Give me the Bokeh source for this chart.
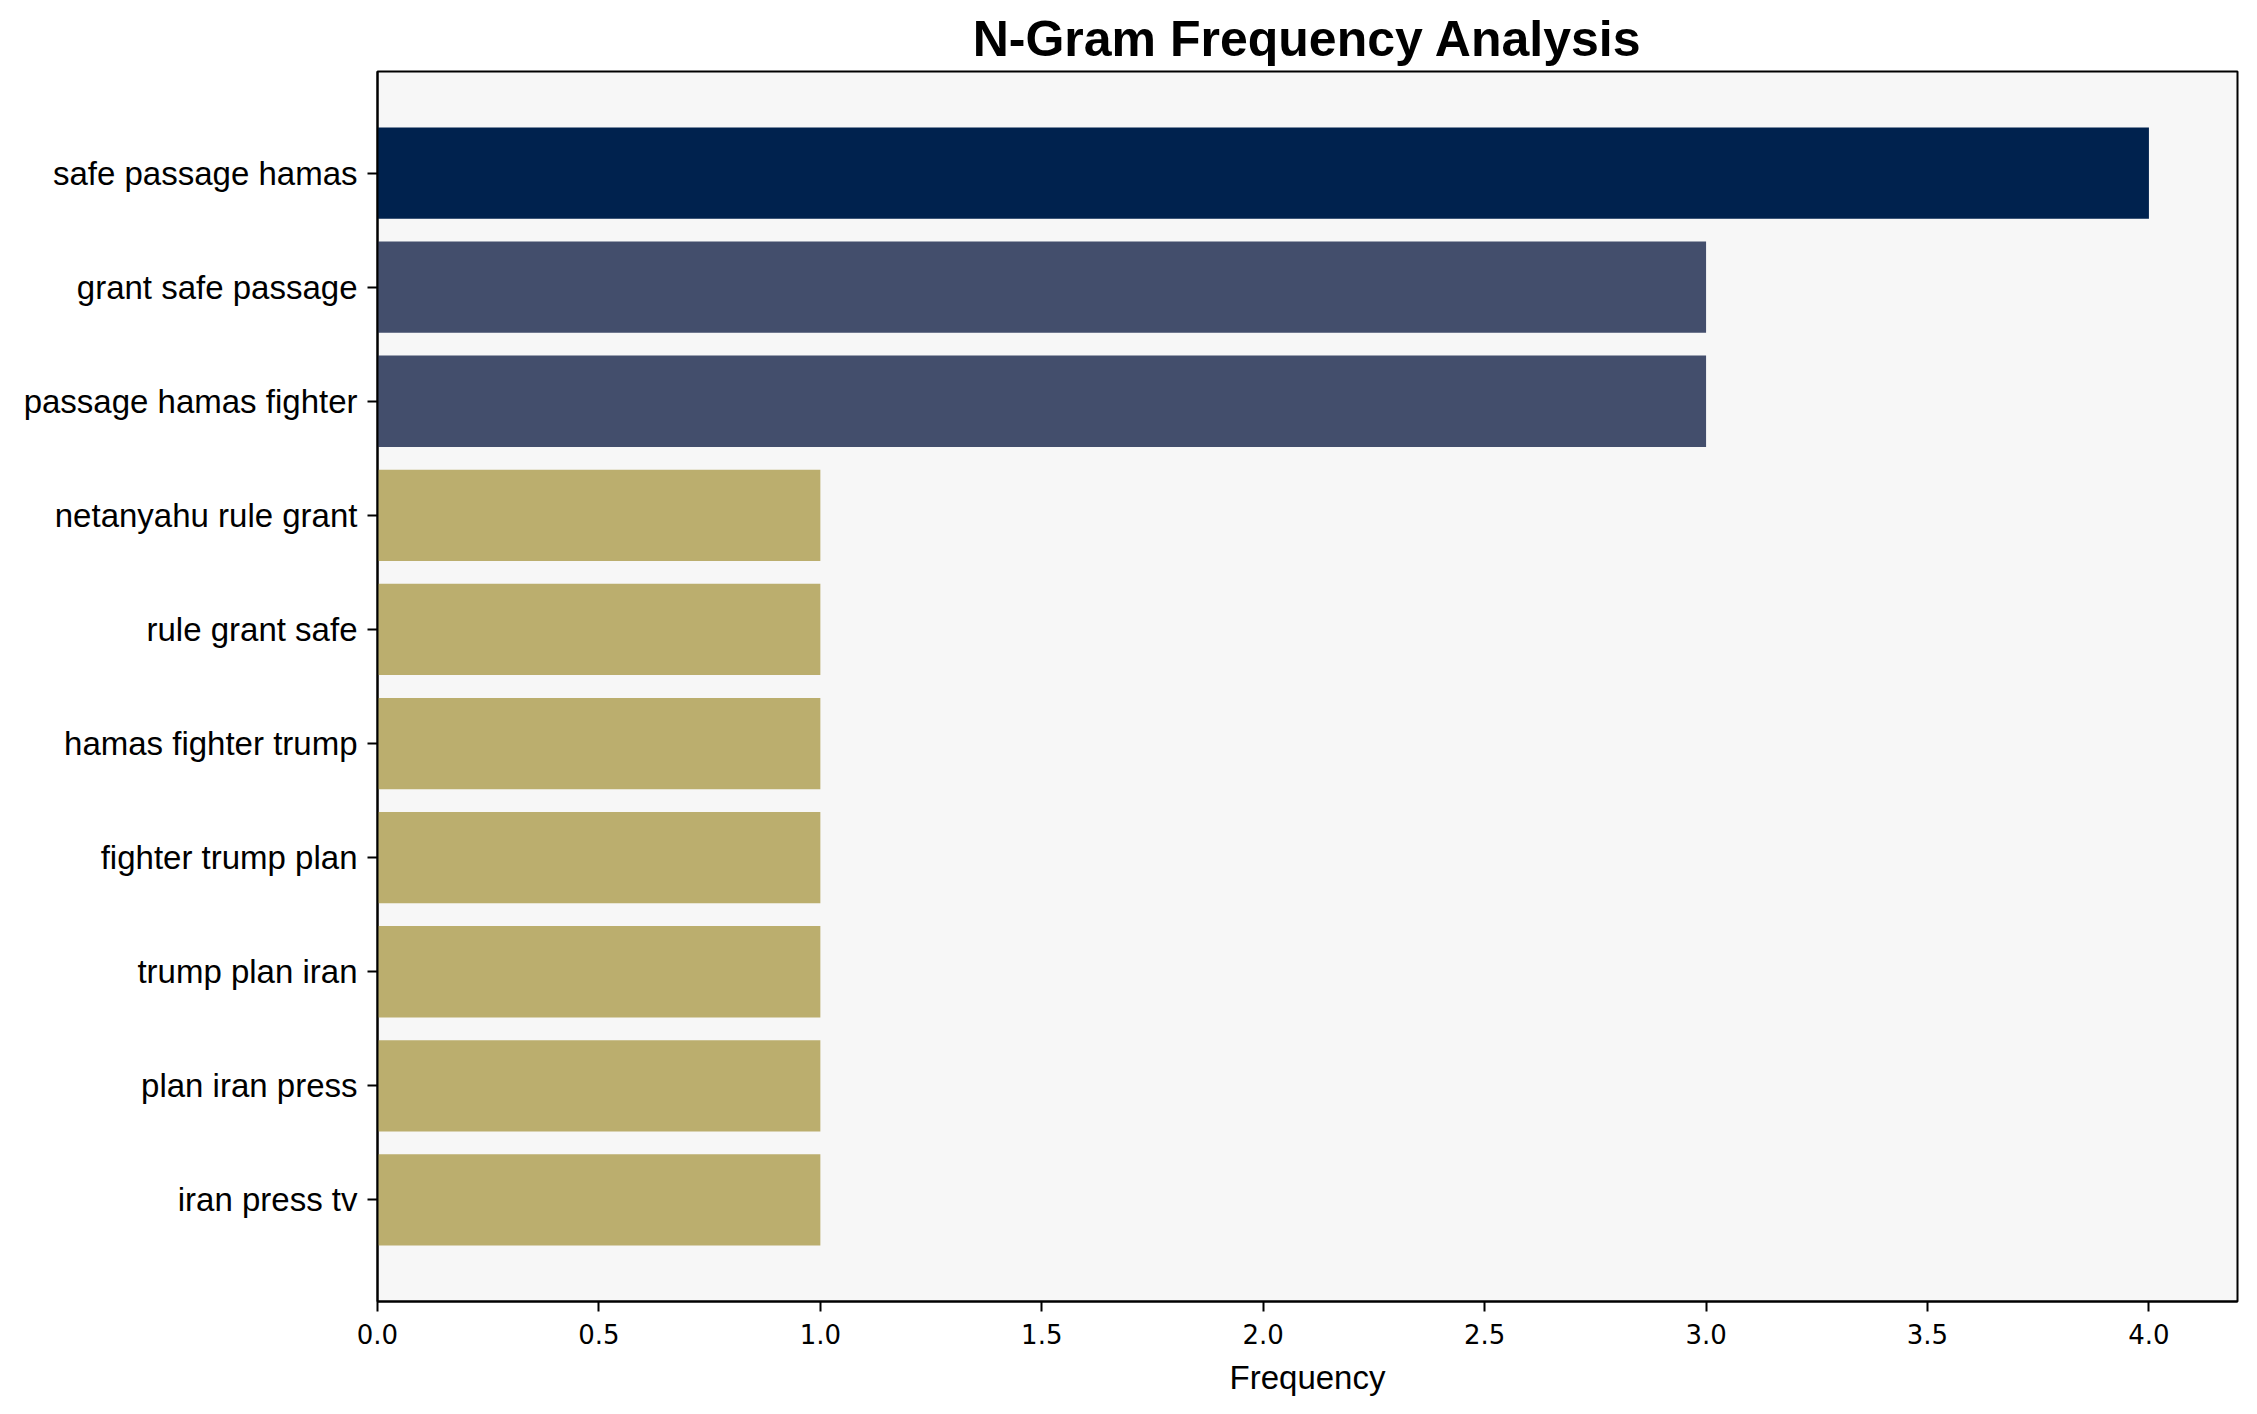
from bokeh.plotting import figure
from bokeh.models import Range1d, FixedTicker, ColumnDataSource
from bokeh.embed import file_html
from bokeh.resources import INLINE

ngrams = ["safe passage hamas", "grant safe passage", "passage hamas fighter",
          "netanyahu rule grant", "rule grant safe", "hamas fighter trump",
          "fighter trump plan", "trump plan iran", "plan iran press", "iran press tv"]
frequencies = [4, 3, 3, 1, 1, 1, 1, 1, 1, 1]
color_by_value = {4: "#00224e", 3: "#434e6c", 1: "#bbae6e"}
x_ticks = [0.0, 0.5, 1.0, 1.5, 2.0, 2.5, 3.0, 3.5, 4.0]

positions = list(range(len(ngrams)))
src = ColumnDataSource(dict(pos=positions, freq=frequencies,
                            color=[color_by_value[v] for v in frequencies]))

p = figure(width=2241, height=1398, output_backend="svg", toolbar_location=None,
           x_range=Range1d(0, 4.2), y_range=Range1d(9.89, -0.89),
           min_border_left=377, min_border_right=4, min_border_top=71, min_border_bottom=95)

p.hbar(y="pos", left=0, right="freq", height=0.8, fill_color="color", line_color=None, source=src)

p.title.text = "N-Gram Frequency Analysis"
p.title.align = "center"
p.title.text_font = "Liberation Sans"
p.title.text_font_size = "50px"
p.title.text_font_style = "bold"
p.title.text_color = "black"
p.title.standoff = 10

p.background_fill_color = "#f7f7f7"
p.border_fill_color = "white"
p.outline_line_color = "black"
p.outline_line_width = 2
p.outline_line_alpha = 1.0
p.xgrid.visible = False
p.ygrid.visible = False

xa = p.xaxis[0]
xa.ticker = FixedTicker(ticks=x_ticks)
xa.major_label_overrides = {t: f"{t:.1f}" for t in x_ticks}
xa.major_label_text_font = "DejaVu Sans"
xa.major_label_text_font_size = "26px"
xa.major_label_text_color = "black"
xa.major_label_standoff = 12
xa.axis_label = "Frequency"
xa.axis_label_text_font = "Liberation Sans"
xa.axis_label_text_font_size = "33px"
xa.axis_label_text_font_style = "normal"
xa.axis_label_text_color = "black"
xa.axis_label_standoff = 12

ya = p.yaxis[0]
ya.ticker = FixedTicker(ticks=positions)
ya.major_label_overrides = {i: n for i, n in zip(positions, ngrams)}
ya.major_label_text_font = "Liberation Sans"
ya.major_label_text_font_size = "33px"
ya.major_label_text_color = "black"
ya.major_label_standoff = 10

for ax in (xa, ya):
    ax.minor_tick_line_color = None
    ax.major_tick_out = 10
    ax.major_tick_in = 0
    ax.major_tick_line_width = 2
    ax.major_tick_line_color = "black"
    ax.axis_line_width = 2
    ax.axis_line_color = "black"

open("out.html", "w").write(file_html(p, INLINE))
